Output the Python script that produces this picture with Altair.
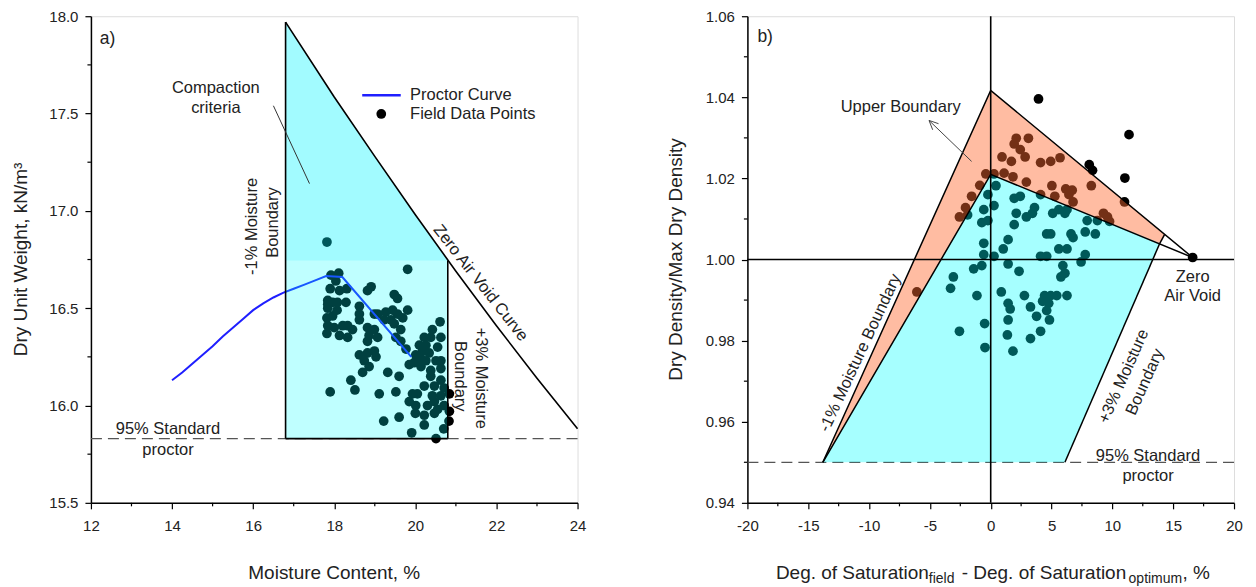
import altair as alt
import pandas as pd

FONT = "Liberation Sans"
W, H = 487, 487
ANN = 16.5

# ---------------- panel a data ----------------
x_ticks_a = [12, 14, 16, 18, 20, 22, 24]
y_ticks_a = [15.5, 16.0, 16.5, 17.0, 17.5, 18.0]
x_minor_a = [13, 15, 17, 19, 21, 23]
y_minor_a = [15.75, 16.25, 16.75, 17.25, 17.75]

proctor_w = [14.0, 14.25, 14.5, 14.75, 15.0, 15.25, 15.5, 15.75, 16.0, 16.25, 16.5, 16.75,
             17.0, 17.25, 17.5, 17.8, 18.2, 19.9]
proctor_g = [16.13, 16.17, 16.215, 16.26, 16.305, 16.355, 16.40, 16.445, 16.49, 16.525, 16.555, 16.58,
             16.60, 16.62, 16.64, 16.665, 16.66, 16.25]

zav_w = [16.8, 18, 19, 20, 21, 22, 23, 24]
zav_g = [17.97, 17.585, 17.28, 16.98, 16.69, 16.41, 16.14, 15.88]

crit_w = [16.8, 18.0, 19.0, 20.0, 20.8]
crit_top = [17.97, 17.585, 17.28, 16.98, 16.745]
crit_bottom = 15.83
crit_step = 16.745
std95_a = 15.83

field_a = [
    (17.82, 16.84), (19.81, 16.70), (17.92, 16.67), (18.11, 16.68), (18.04, 16.64),
    (17.90, 16.60), (18.13, 16.59), (18.31, 16.60), (17.84, 16.54), (17.96, 16.53),
    (18.08, 16.53), (17.84, 16.50), (18.07, 16.49), (18.29, 16.53), (17.82, 16.45),
    (17.96, 16.46), (17.84, 16.41), (18.00, 16.40), (18.21, 16.41), (18.33, 16.41),
    (17.82, 16.37), (18.13, 16.36), (18.33, 16.35), (18.82, 16.59), (18.91, 16.61),
    (18.62, 16.51), (18.62, 16.47), (18.62, 16.44), (18.99, 16.47), (19.07, 16.47),
    (18.82, 16.40), (18.99, 16.39), (18.86, 16.36), (19.07, 16.35), (19.48, 16.57),
    (19.56, 16.55), (19.27, 16.48), (19.44, 16.49), (19.56, 16.47), (19.40, 16.44),
    (19.23, 16.44), (19.48, 16.42), (19.69, 16.45), (19.81, 16.49), (19.64, 16.39),
    (19.52, 16.35), (19.64, 16.33), (19.77, 16.29), (20.61, 16.43), (20.42, 16.39),
    (20.22, 16.35), (20.38, 16.35), (20.63, 16.35), (20.10, 16.31), (20.26, 16.31),
    (20.55, 16.30), (20.18, 16.28), (20.34, 16.27), (20.01, 16.26), (19.85, 16.21),
    (19.97, 16.22), (20.14, 16.24), (20.26, 16.23), (20.38, 16.18), (20.63, 16.23),
    (20.63, 16.19), (20.38, 16.15), (18.62, 16.26), (18.82, 16.27), (18.99, 16.28),
    (18.74, 16.23), (18.86, 16.20), (18.70, 16.17), (19.03, 16.25), (19.32, 16.17),
    (19.60, 16.15), (18.41, 16.13), (18.51, 16.08), (17.90, 16.07), (19.11, 16.06),
    (19.52, 16.07), (19.93, 16.06), (20.05, 16.06), (19.85, 16.02), (20.01, 16.00),
    (20.42, 16.05), (20.63, 16.05), (20.30, 16.00), (20.47, 16.02), (20.55, 15.98),
    (20.71, 16.00), (20.00, 15.96), (20.22, 15.95), (20.47, 15.96), (19.60, 15.94),
    (19.22, 15.92), (20.22, 15.90), (20.70, 15.88), (19.91, 15.86), (20.51, 15.83),
    (20.84, 16.06), (20.84, 15.97), (20.83, 15.92), (17.84, 16.52), (18.45, 16.39),
    (18.82, 16.33), (20.14, 16.20), (20.51, 16.23), (20.63, 16.13), (20.22, 16.10),
    (20.47, 16.10), (20.71, 16.09),
]

# ---------------- panel b data ----------------
x_ticks_b = [-20, -15, -10, -5, 0, 5, 10, 15, 20]
y_ticks_b = [0.94, 0.96, 0.98, 1.00, 1.02, 1.04, 1.06]
x_minor_b = [-17.5, -12.5, -7.5, -2.5, 2.5, 7.5, 12.5, 17.5]
y_minor_b = [0.95, 0.97, 0.99, 1.01, 1.03, 1.05]
std95_b = 0.95

cyan_x = [-13.8, 0.0, 6.1, 13.9]
cyan_top = [0.95, 1.021, 1.0135, 1.004]
cyan_bot = [0.95, 0.95, 0.95, 1.004]
orange_x = [-13.8, 0.0, 13.9, 14.3]
orange_top = [0.95, 1.0417, 1.0072, 1.0062]
orange_bot = [0.95, 1.021, 1.004, 1.0060]

bound_lines_b = [
    ("outer", 0, -13.8, 0.95), ("outer", 1, 0.0, 1.0417), ("outer", 2, 16.6, 1.0005),
    ("inner", 0, -13.8, 0.95), ("inner", 1, 0.0, 1.021), ("inner", 2, 16.6, 1.0005),
    ("plus3", 0, 13.9, 1.004), ("plus3", 1, 6.1, 0.95),
    ("edge", 0, 14.3, 1.0062), ("edge", 1, 13.9, 1.004),
]
arrow_b = [
    ("shaft", 0, -1.57, 1.0242), ("shaft", 1, -5.07, 1.0343),
    ("head", 0, -4.77, 1.0320), ("head", 1, -5.07, 1.0343), ("head", 2, -4.29, 1.0335),
]

field_b = [
    (3.93, 1.0396), (11.37, 1.0308), (8.10, 1.0234), (8.37, 1.0220), (11.03, 1.0201),
    (11.0, 1.0142), (16.6, 1.0005),
    (2.10, 1.0299), (1.93, 1.0285), (2.43, 1.0271), (3.10, 1.0299), (0.93, 1.0253),
    (1.70, 1.0242), (2.83, 1.0253), (4.10, 1.0239), (4.93, 1.0242), (5.70, 1.0251),
    (1.10, 1.0213), (0.27, 1.0211), (-0.40, 1.0211), (1.83, 1.0204), (2.93, 1.0191),
    (5.03, 1.0182), (4.10, 1.0160), (5.27, 1.0156), (6.17, 1.0174), (6.70, 1.0171),
    (6.43, 1.0160), (6.77, 1.0142), (8.27, 1.0182), (9.27, 1.0114), (9.60, 1.0105),
    (9.77, 1.0094), (-0.90, 1.0183), (-1.57, 1.0156), (-2.07, 1.0128), (-2.57, 1.0105),
    (-6.07, 0.9920),
    (0.43, 1.0182), (0.27, 1.0133), (-0.57, 1.0123), (-1.90, 1.0110), (-0.73, 1.0091),
    (-0.23, 1.0096), (1.93, 1.0151), (2.43, 1.0156), (2.10, 1.0114), (1.93, 1.0086),
    (2.93, 1.0105), (3.43, 1.0114), (3.60, 1.0128), (5.10, 1.0114), (5.60, 1.0123),
    (6.10, 1.0114), (6.27, 1.0123), (4.60, 1.0063), (4.93, 1.0063), (6.77, 1.0054),
    (6.60, 1.0063), (7.77, 1.0068), (8.60, 1.0063), (7.93, 1.0096), (8.77, 1.0096),
    (5.60, 1.0026), (6.27, 1.0026), (5.93, 0.9985), (5.77, 0.9957), (6.10, 0.9966),
    (5.43, 0.9911), (6.27, 0.9911), (7.43, 0.9994), (7.77, 1.0012), (4.10, 1.0008),
    (4.60, 1.0008), (4.43, 0.9911), (4.93, 0.9911), (4.77, 0.9892), (4.27, 0.9897),
    (4.60, 0.9874), (4.83, 0.9851), (3.27, 0.9883), (3.77, 0.9860), (4.10, 0.9823),
    (3.27, 0.9805), (2.77, 0.9911), (1.43, 0.9892), (1.60, 0.9878), (1.43, 0.9851),
    (1.37, 0.9814), (1.83, 0.9774), (0.87, 0.9920), (2.33, 0.9971), (1.43, 0.9989),
    (1.03, 1.0026), (1.43, 1.0049), (0.27, 1.0008), (-0.57, 1.0012), (-0.57, 1.0040),
    (-0.73, 0.9985), (-1.40, 0.9977), (-1.13, 0.9911), (-3.07, 0.9957), (-3.30, 0.9929),
    (-2.57, 0.9823), (-0.50, 0.9842), (-0.47, 0.9783), (-0.23, 1.0160),
]


# ---------------- helpers ----------------
def scale(domain):
    return alt.Scale(domain=domain, nice=False, zero=False)


def make_axes(xt, yt, yfmt):
    common = dict(grid=False, domainColor="black", domainWidth=1.5, tickColor="black", tickWidth=1.2,
                  tickSize=6, labelFont=FONT, labelFontSize=15, labelColor="#222", title=None,
                  labelFlush=False, labelOverlap=False)
    xa = alt.Axis(values=xt, labelPadding=10,
                  labelExpr="datum.value < 0 ? '-' + abs(datum.value) : '' + datum.value", **common)
    ya = alt.Axis(values=yt, format=yfmt, labelPadding=7, **common)
    return xa, ya


class Panel:
    def __init__(self, xdom, ydom, xt, yt, yfmt):
        self.xs = scale(xdom)
        self.ys = scale(ydom)
        self.xa, self.ya = make_axes(xt, yt, yfmt)

    def X(self, f="x"):
        return alt.X(f"{f}:Q", scale=self.xs, axis=self.xa)

    def Y(self, f="y"):
        return alt.Y(f"{f}:Q", scale=self.ys, axis=self.ya)

    def XY(self):
        return dict(x=self.X(), y=self.Y())

    def ann(self, text, x, y, size=ANN, **kw):
        df = pd.DataFrame({"x": [x], "y": [y], "t": [text]})
        return alt.Chart(df).mark_text(font=FONT, fontSize=size, color="#222", **kw).encode(
            text="t:N", **self.XY())

    def lines(self, rows, **kw):
        df = pd.DataFrame(rows, columns=["seg", "o", "x", "y"])
        return alt.Chart(df).mark_line(**kw).encode(detail="seg:N", order="o:Q", **self.XY())

    def hrule(self, yv, **kw):
        return alt.Chart(pd.DataFrame({"y": [yv]})).mark_rule(**kw).encode(y=self.Y())

    def vrule(self, xv, **kw):
        return alt.Chart(pd.DataFrame({"x": [xv]})).mark_rule(**kw).encode(x=self.X())

    def minor(self, xm, ym):
        a = alt.Chart(pd.DataFrame({"x": xm})).mark_rule(color="black", strokeWidth=1.2).encode(
            x=self.X(), y=alt.value(H), y2=alt.value(H + 3.5))
        b = alt.Chart(pd.DataFrame({"y": ym})).mark_rule(color="black", strokeWidth=1.2).encode(
            y=self.Y(), x=alt.value(0), x2=alt.value(-3.5))
        return [a, b]


def pix_text(text, x, y, size=19, **kw):
    return alt.Chart(pd.DataFrame({"a": [0]})).mark_text(
        text=text, font=FONT, fontSize=size, color="#222", **kw
    ).encode(x=alt.value(x), y=alt.value(y))


C = dict(align="center", baseline="middle")

# ---------------- panel a ----------------
A = Panel([12, 24], [15.5, 18.0], x_ticks_a, y_ticks_a, ".1f")

pa = pd.DataFrame(field_a, columns=["x", "y"])
proc = pd.DataFrame({"x": proctor_w, "y": proctor_g})
zav = pd.DataFrame({"x": zav_w, "y": zav_g})
crit = pd.DataFrame({"x": crit_w, "y": crit_top, "b": [crit_bottom] * len(crit_w),
                     "s": [crit_step] * len(crit_w)})

layers_a = [
    A.hrule(std95_a, color="#555", strokeDash=[11, 6], strokeWidth=1.2),
    alt.Chart(pa).mark_circle(size=95, color="black", opacity=1).encode(**A.XY()),
    alt.Chart(proc).mark_line(color="#1f1fff", strokeWidth=2).encode(**A.XY()),
    alt.Chart(crit).mark_area(color="#00ffff", opacity=0.25).encode(y2=alt.Y2("b:Q"), **A.XY()),
    alt.Chart(crit).mark_area(color="#00e5ff", opacity=0.15).encode(y2=alt.Y2("s:Q"), **A.XY()),
    A.lines([("l", 0, 16.8, crit_bottom), ("l", 1, 16.8, crit_top[0]),
             ("b", 0, 16.8, crit_bottom), ("b", 1, 20.8, crit_bottom),
             ("r", 0, 20.8, crit_bottom), ("r", 1, 20.8, crit_step)],
            color="black", strokeWidth=1.6),
    alt.Chart(zav).mark_line(color="black", strokeWidth=1.6).encode(**A.XY()),
    A.lines([("k", 0, 16.5, 17.54), ("k", 1, 17.39, 17.14)], color="#333", strokeWidth=1),
    # legend
    A.lines([("g", 0, 18.69, 17.594), ("g", 1, 19.64, 17.594)], color="#1f1fff", strokeWidth=2.5),
    alt.Chart(pd.DataFrame({"x": [19.16], "y": [17.498]})).mark_circle(size=95, color="black", opacity=1).encode(
        **A.XY()),
    A.ann("Proctor Curve", 19.87, 17.594, align="left", baseline="middle"),
    A.ann("Field Data Points", 19.87, 17.498, align="left", baseline="middle"),
    # annotations
    A.ann("a)", 12.22, 17.885, size=17.5, align="left", baseline="middle"),
    A.ann("Compaction", 15.08, 17.63, **C),
    A.ann("criteria", 15.08, 17.53, **C),
    A.ann("-1% Moisture", 15.96, 16.92, angle=270, **C),
    A.ann("Boundary", 16.50, 16.94, angle=270, **C),
    A.ann("Zero Air Void Curve", 21.61, 16.63, angle=52, **C),
    A.ann("+3% Moisture", 21.61, 16.14, angle=90, **C),
    A.ann("Boundary", 21.09, 16.15, angle=90, **C),
    A.ann("95% Standard", 13.9, 15.877, **C),
    A.ann("proctor", 13.9, 15.772, **C),
    pix_text("Moisture Content, %", W / 2, H + 76, align="center", baseline="alphabetic"),
    pix_text("Dry Unit Weight, kN/m³", -64, H / 2, angle=270, align="center", baseline="alphabetic"),
] + A.minor(x_minor_a, y_minor_a)

left = alt.layer(*layers_a).properties(width=W, height=H)

# ---------------- panel b ----------------
B = Panel([-20, 20], [0.94, 1.06], x_ticks_b, y_ticks_b, ".2f")

pb = pd.DataFrame(field_b, columns=["x", "y"])
cy = pd.DataFrame({"x": cyan_x, "y": cyan_top, "b": cyan_bot})
orng = pd.DataFrame({"x": orange_x, "y": orange_top, "b": orange_bot})

ty = H + 76
layers_b = [
    B.hrule(std95_b, color="#555", strokeDash=[11, 6], strokeWidth=1.2),
    alt.Chart(pb).mark_circle(size=95, color="black", opacity=1).encode(**B.XY()),
    alt.Chart(cy).mark_area(color="#00ffff", opacity=0.35).encode(y2=alt.Y2("b:Q"), **B.XY()),
    alt.Chart(orng).mark_area(color="#ff6a30", opacity=0.45).encode(y2=alt.Y2("b:Q"), **B.XY()),
    B.lines(bound_lines_b, color="black", strokeWidth=1.5),
    B.vrule(0, color="black", strokeWidth=1.6),
    B.hrule(1.0, color="black", strokeWidth=1.6),
    B.lines(arrow_b, color="#444", strokeWidth=1),
    B.ann("b)", -19.18, 1.0549, size=17.5, align="left", baseline="middle"),
    B.ann("Upper Boundary", -7.4, 1.0375, **C),
    B.ann("-1% Moisture Boundary", -10.73, 0.9770, angle=295, **C),
    B.ann("+3% Moisture", 10.93, 0.9712, angle=294, **C),
    B.ann("Boundary", 12.67, 0.9698, angle=294, **C),
    B.ann("Zero", 16.6, 0.9957, **C),
    B.ann("Air Void", 16.6, 0.9911, **C),
    B.ann("95% Standard", 12.93, 0.9515, **C),
    B.ann("proctor", 12.93, 0.9465, **C),
    pix_text("Dry Density/Max Dry Density", -65, H / 2, angle=270, align="center", baseline="alphabetic"),
    pix_text("Deg. of Saturation", 28.5, ty, align="left", baseline="alphabetic"),
    pix_text("field", 181.6, ty + 4, size=14, align="left", baseline="alphabetic"),
    pix_text("- Deg. of Saturation", 214.5, ty, align="left", baseline="alphabetic"),
    pix_text("optimum", 381.5, ty + 4, size=14, align="left", baseline="alphabetic"),
    pix_text(", %", 435.5, ty, align="left", baseline="alphabetic"),
] + B.minor(x_minor_b, y_minor_b)

right = alt.layer(*layers_b).properties(width=W, height=H)

chart = alt.hconcat(left, right, spacing=80).properties(
    padding={"left": 3, "top": 0, "right": 5, "bottom": 0}
).configure_view(stroke="black", strokeWidth=1.5).configure(background="white")

chart.save("out.html", embed_options={"renderer": "svg", "actions": False})
